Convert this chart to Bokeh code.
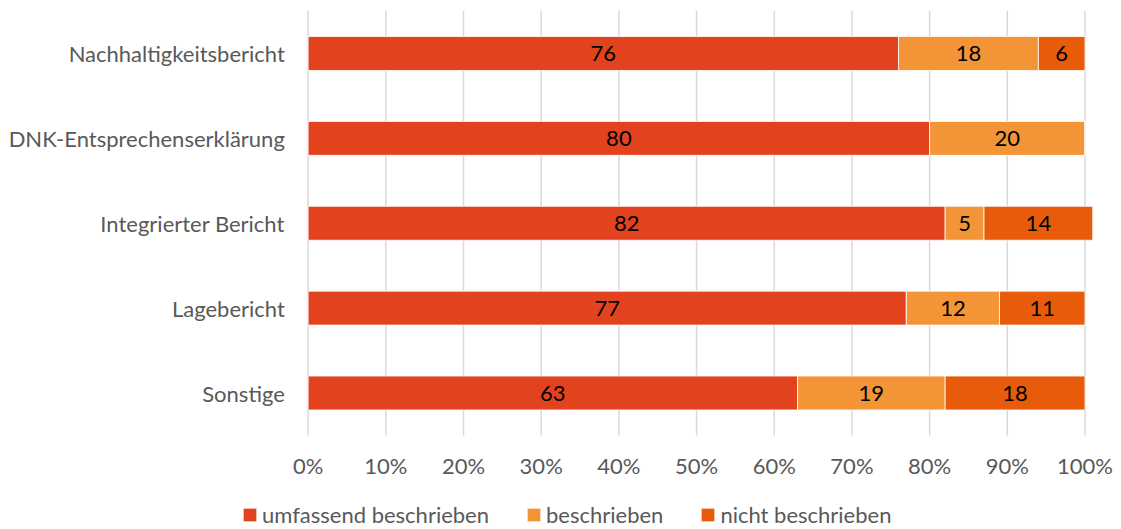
from bokeh.plotting import figure
from bokeh.models import ColumnDataSource, Legend, LegendItem, Range1d
from bokeh.core.properties import value
from bokeh.embed import file_html
from bokeh.resources import INLINE

# Report types (top to bottom) and shares in percent
categories = ["Nachhaltigkeitsbericht", "DNK-Entsprechenserklärung", "Integrierter Bericht", "Lagebericht", "Sonstige"]
umfassend = [76, 80, 82, 77, 63]
beschrieben = [18, 20, 5, 12, 19]
nicht = [6, 0, 14, 11, 18]

series_names = ["umfassend beschrieben", "beschrieben", "nicht beschrieben"]
series_keys = ["umfassend", "beschrieben", "nicht"]
colors = ["#E2431E", "#F39536", "#E85B0A"]
tick_values = [0, 10, 20, 30, 40, 50, 60, 70, 80, 90, 100]
tick_labels = ["0%", "10%", "20%", "30%", "40%", "50%", "60%", "70%", "80%", "90%", "100%"]

FONT = "Lato"
FONT_SIZE = "22px"
LABEL_GREY = "#595959"

# Row positions: first category on top
n = len(categories)
ypos = [n - 1 - i for i in range(n)]

source = ColumnDataSource(dict(y=ypos, cat=categories, umfassend=umfassend,
                               beschrieben=beschrieben, nicht=nicht))

# The plotting area spans the whole page so that the category names,
# the percent scale and the legend all sit inside it.
p = figure(
    width=1121, height=529,
    x_range=Range1d(-39.6, 104.7), y_range=Range1d(-1.608, 4.6245),
    min_border=0, min_border_left=0, min_border_right=0,
    min_border_top=0, min_border_bottom=0,
    output_backend="svg", toolbar_location=None,
)
p.outline_line_color = None
p.background_fill_color = "white"
p.border_fill_color = "white"
p.axis.visible = False
p.grid.visible = False

# Vertical grid lines at every 10 %
p.segment(x0=tick_values, x1=tick_values, y0=[-0.5] * len(tick_values), y1=[n - 0.5] * len(tick_values),
          line_color="#D9D9D9", line_width=1.5)

renderers = p.hbar_stack(series_keys, y="y", height=0.4, color=colors, source=source,
                         line_color="white", line_width=0.8)

# Segment value labels, centred in each non-empty segment
lx, ly, lt = [], [], []
for i in range(n):
    left = 0
    for vals in (umfassend, beschrieben, nicht):
        v = vals[i]
        if v > 0:
            lx.append(left + v / 2)
            ly.append(ypos[i])
            lt.append(str(v))
        left += v
p.text(x="x", y="y", text="t", source=ColumnDataSource(dict(x=lx, y=ly, t=lt)),
       text_align="center", text_baseline="middle",
       text_font=value(FONT), text_font_size=FONT_SIZE, text_color="#000000")

# Category names left of the bars
p.text(x=[-3.0] * n, y=ypos, text=categories, text_align="right", text_baseline="middle",
       text_font=value(FONT), text_font_size=FONT_SIZE, text_color=LABEL_GREY)

# Percent scale under the grid
p.text(x=tick_values, y=[-0.855] * len(tick_values), text=tick_labels,
       text_align="center", text_baseline="middle",
       text_font=value(FONT), text_font_size=FONT_SIZE, text_color=LABEL_GREY)

legend = Legend(
    items=[LegendItem(label=nm, renderers=[r]) for nm, r in zip(series_names, renderers)],
    orientation="horizontal", location=(241, 1),
    glyph_width=17, glyph_height=17, label_standoff=4, spacing=36,
    padding=0, margin=0, border_line_color=None, background_fill_alpha=0,
    label_text_font=FONT, label_text_font_size=FONT_SIZE, label_text_color=LABEL_GREY,
)
p.add_layout(legend, "center")

open("out.html", "w").write(file_html(p, INLINE))
